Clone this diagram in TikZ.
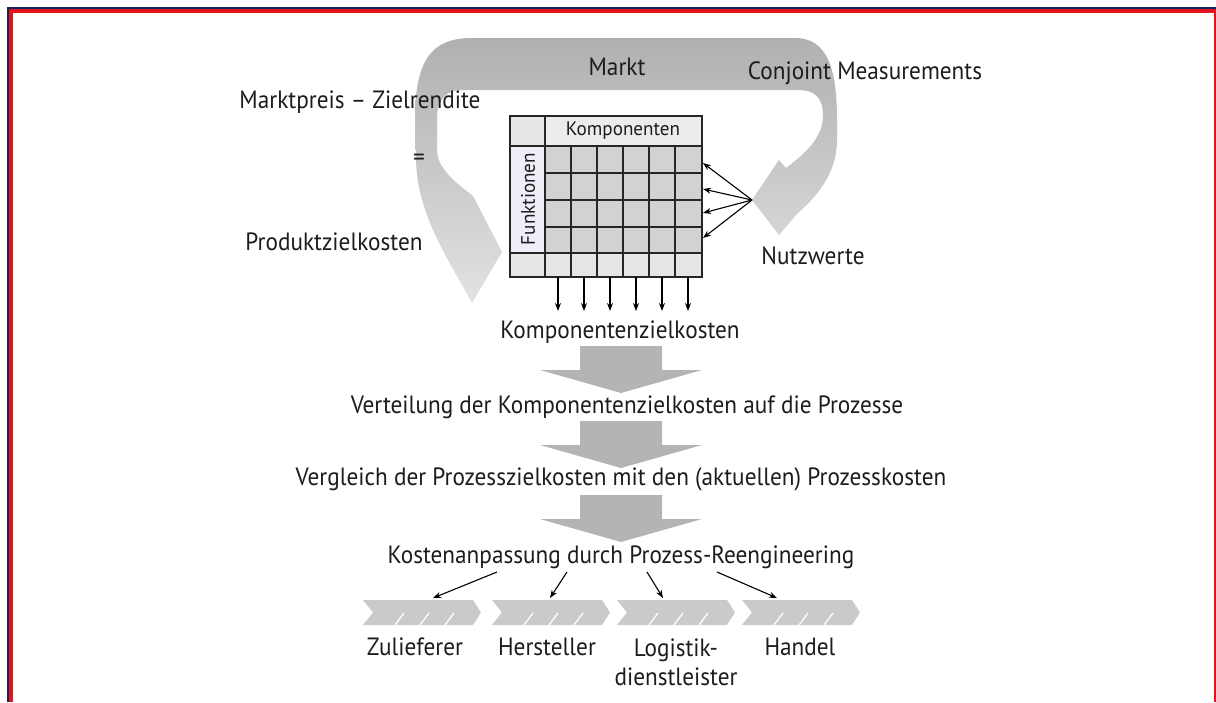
\documentclass[tikz,border=0pt]{standalone}
\usepackage{fontspec}
\setmainfont{PT Sans}[FakeStretch=0.93]
\newfontfamily\cellfont{PT Sans}[FakeStretch=0.98]
\usetikzlibrary{arrows.meta}
\definecolor{framenavy}{HTML}{10245E}
\definecolor{framered}{HTML}{E0141E}
\definecolor{ink}{HTML}{1C1C1C}
\definecolor{cellgray}{HTML}{D2D2D2}
\definecolor{lightcell}{HTML}{E6E6E6}
\definecolor{headcell}{HTML}{ECECEC}
\definecolor{funccell}{HTML}{EEEEF6}
\definecolor{bandtop}{HTML}{B0B0B0}
\definecolor{bandend}{HTML}{E2E2E2}
\definecolor{bigarrowgray}{HTML}{B4B4B4}
\definecolor{chevgray}{HTML}{CACACA}
\tikzset{
  lbl/.style={font=\fontsize{25}{29}\selectfont, text=ink, inner sep=0pt, align=center},
  smalllbl/.style={font=\cellfont\fontsize{19.5}{22}\selectfont, text=ink, inner sep=0pt},
  grid/.style={draw=black!85, line width=1.6pt},
  dart/.style={draw=black, line width=1.1pt, -{Stealth[length=8pt,width=6pt]}},
  bigarrow/.style={fill=bigarrowgray},
  chevron/.style={fill=chevgray},
  tick/.style={draw=white, line width=1.3pt}
}
\newcommand\bigdown[2]{%
  \fill[bigarrow] (#1-41,#2) -- (#1+41,#2) -- (#1+41,#2+24) -- (#1+81,#2+24)
    -- (#1,#2+47) -- (#1-81,#2+24) -- (#1-41,#2+24) -- cycle;}
\begin{document}
\begin{tikzpicture}[x=1pt,y=-1pt]
\useasboundingbox (0,0) rectangle (1216,702);

% frame
\fill[framenavy] (7,7) rectangle (1216,9);
\fill[framenavy] (7,7) rectangle (9,702);
\fill[framered] (9,9) rectangle (1216,12.5);
\fill[framered] (9,9) rectangle (12.5,702);
\fill[framered] (1213.5,9) rectangle (1216,702);

% curved market band with its two arrowheads
\shade[top color=bandtop, bottom color=bandend]
  (502,252) -- (472,303)
  .. controls (450,262) and (417,215) .. (416,160)
  -- (415,120) .. controls (415,62) and (430,38) .. (472,38)
  -- (795,38) .. controls (828,38) and (837,70) .. (837,120)
  -- (837,140) .. controls (837,175) and (815,198) .. (797,214)
  -- (779,235) -- (752,200) -- (779,160) -- (786,168)
  .. controls (810,150) and (823,135) .. (823,115)
  .. controls (823,98) and (815,90) .. (798,90)
  -- (462,90) .. controls (446,90) and (437,100) .. (437,118)
  -- (437,150) .. controls (437,168) and (455,182) .. (473,196)
  -- cycle;

% labels around the band
\node[lbl] (mp)    at (360,102) {Marktpreis -- Zielrendite};
\node[lbl] (markt) at (617,67)  {Markt};
\node[lbl] (conj)  at (865,73)  {Conjoint Measurements};
\node[lbl] (eq)    at (419,160) {=};
\node[lbl] (pzk)   at (334,242) {Produktzielkosten};
\node[lbl] (nutz)  at (813,256) {Nutzwerte};

% function/component matrix
\fill[lightcell] (510,116) rectangle (545,146);
\fill[headcell]  (545,116) rectangle (702,146);
\fill[funccell]  (510,146) rectangle (545,253);
\fill[cellgray]  (545,146) rectangle (702,253);
\fill[lightcell] (510,253) rectangle (702,277);
\foreach \cx in {571,597,623,649,675} \draw[grid] (\cx,146) -- (\cx,277);
\foreach \ry in {173,200,227} \draw[grid] (545,\ry) -- (702,\ry);
\draw[grid] (510,146) -- (702,146);
\draw[grid] (510,253) -- (702,253);
\draw[grid] (545,116) -- (545,277);
\draw[grid] (510,116) rectangle (702,277);
\node[smalllbl] (komp) at (623,131) {Komponenten};
\node[smalllbl, rotate=90] (funk) at (528,199) {Funktionen};

% utility values fanned into the function rows
\coordinate (nw) at (752,200);
\coordinate (r1) at (703,163);
\coordinate (r2) at (703,189);
\coordinate (r3) at (703,213);
\coordinate (r4) at (703,238);
\foreach \r in {r1,r2,r3,r4} \draw[dart] (nw) -- (\r);

% component target costs flowing out of the columns
\foreach \cx [count=\i] in {558,584,610,636,662,688} {
  \coordinate (ct\i) at (\cx,277);
  \coordinate (cb\i) at (\cx,311);
  \draw[dart] (ct\i) -- (cb\i);
}

% process steps
\node[lbl] (kzk)   at (620,332) {Komponentenzielkosten};
\bigdown{621}{346}
\node[lbl] (vert)  at (627,407) {Verteilung der Komponentenzielkosten auf die Prozesse};
\bigdown{621}{421}
\node[lbl] (vergl) at (621,479) {Vergleich der Prozesszielkosten mit den (aktuellen) Prozesskosten};
\bigdown{621}{495}
\node[lbl] (kost)  at (621,557) {Kostenanpassung durch Prozess-Reengineering};

% value chain chevrons
\foreach \x [count=\i] in {363,492,617,742} {
  \fill[chevron] (\x,600) -- (\x+110,600) -- (\x+118,612.5) -- (\x+110,625)
    -- (\x,625) -- (\x+10,612.5) -- cycle;
  \foreach \d in {32,57,82} \draw[tick] (\x+\d,625) -- (\x+\d+9,613);
}
\coordinate (c1) at (433,598);
\coordinate (c2) at (550,598);
\coordinate (c3) at (663,598);
\coordinate (c4) at (777,598);
\coordinate (k1) at (497,572);
\coordinate (k2) at (567,572);
\coordinate (k3) at (647,572);
\coordinate (k4) at (717,572);
\foreach \i in {1,2,3,4} \draw[dart] (k\i) -- (c\i);

\node[lbl] (zul)  at (415,647) {Zulieferer};
\node[lbl] (her)  at (547,647) {Hersteller};
\node[lbl] (log)  at (676,662) {Logistik-\\dienstleister};
\node[lbl] (han)  at (800,647) {Handel};
\end{tikzpicture}
\end{document}
